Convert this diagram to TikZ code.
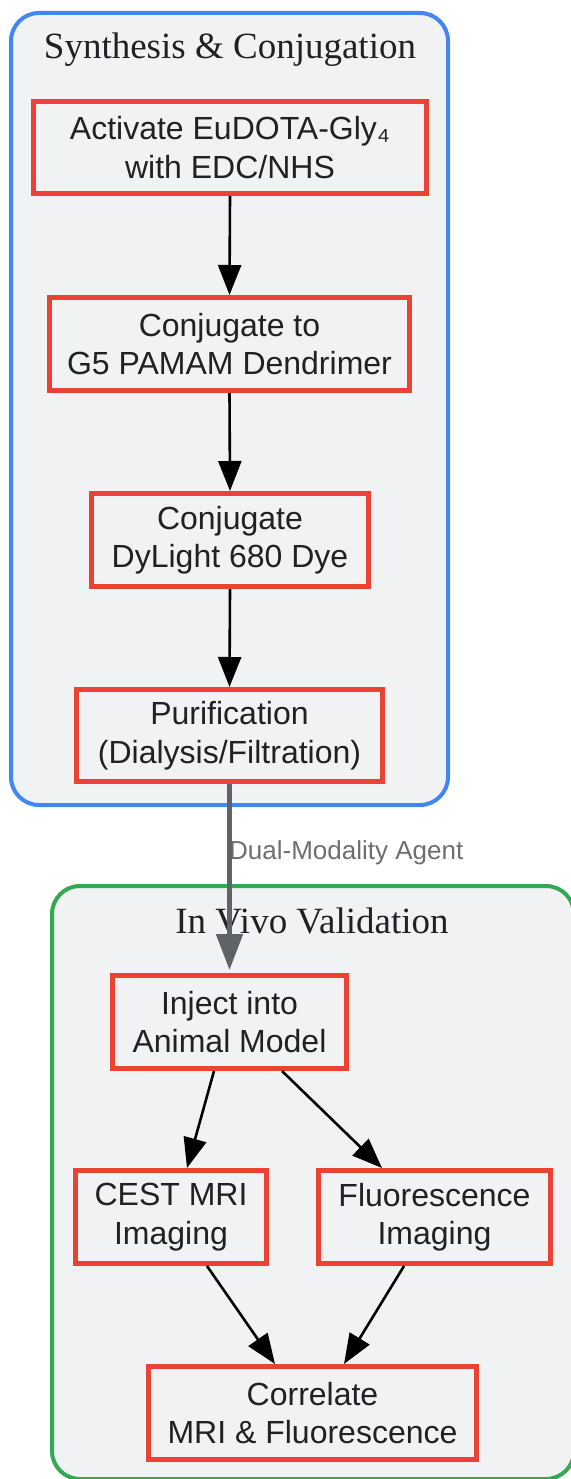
\documentclass[tikz,border=0pt]{standalone}
\usepackage{fontspec}
\setmainfont{Liberation Sans}
\newfontfamily\titlefont{Liberation Serif}
\usetikzlibrary{arrows.meta}
\definecolor{gblue}{HTML}{4285F4}
\definecolor{ggreen}{HTML}{34A853}
\definecolor{gred}{HTML}{EA4335}
\definecolor{gfill}{HTML}{F1F2F4}
\definecolor{tcol}{HTML}{202124}
\definecolor{ggray}{HTML}{5F6368}
\definecolor{lgray}{HTML}{6B6F74}
\begin{document}
\begin{tikzpicture}[x=1pt,y=-1pt,
  cluster/.style={line width=4pt, rounded corners=28pt, fill=gfill},
  proc/.style={draw=gred, fill=gfill, line width=5pt, align=center, inner sep=0pt,
    font=\fontsize{32}{38.5}\selectfont, text=tcol},
  ctitle/.style={anchor=base, text=tcol, font=\titlefont\fontsize{37}{37}\selectfont},
  arr/.style={draw=black, line width=2.6pt, -{Triangle[length=30pt,width=23pt]}},
  garr/.style={draw=ggray, line width=5pt, -{Triangle[length=36pt,width=26pt]}},
  elabel/.style={anchor=base west, inner sep=0pt, text=lgray, font=\fontsize{26}{26}\selectfont}]
\useasboundingbox (0,0) rectangle (570,1479);
\draw[cluster, draw=gblue] (11,13) rectangle (448,805);
\draw[cluster, draw=ggreen] (52,886) rectangle (574,1479);
\node[ctitle] (t1) at (230,59) {Synthesis \& Conjugation};
\node[ctitle] (t2) at (312,933) {In Vivo Validation};
\node[elabel] (lab) at (229,859) {Dual-Modality Agent};

\node[proc, minimum width=393pt, minimum height=92pt] (n1) at (230,147.5) {Activate EuDOTA-Gly₄\\with EDC/NHS};
\node[proc, minimum width=360pt, minimum height=93pt] (n2) at (229.5,344) {Conjugate to\\G5 PAMAM Dendrimer};
\node[proc, minimum width=277pt, minimum height=93pt] (n3) at (230,540) {Conjugate\\DyLight 680 Dye};
\node[proc, minimum width=306pt, minimum height=92pt] (n4) at (229.5,735.5) {Purification\\(Dialysis/Filtration)};
\node[proc, minimum width=234pt, minimum height=93pt] (n5) at (229.5,1022) {Inject into\\Animal Model};
\node[proc, minimum width=191pt, minimum height=93pt] (n6) at (171,1217) {CEST MRI\\Imaging};
\node[proc, minimum width=232pt, minimum height=93pt] (n7) at (434.5,1217) {Fluorescence\\Imaging};
\node[proc, minimum width=328pt, minimum height=93pt] (n8) at (312.5,1413) {Correlate\\MRI \& Fluorescence};

\draw[arr] (n1.south) -- (n2.north);
\draw[arr] (n2.south) -- (n3.north);
\draw[arr] (n3.south) -- (n4.north);
\draw[garr] (n4.south) -- ([yshift=3pt]n5.north);
\draw[arr] ([xshift=-15.5pt]n5.south) -- ([xshift=16pt]n6.north);
\draw[arr] ([xshift=52.5pt]n5.south) -- ([xshift=-52.5pt]n7.north);
\draw[arr] ([xshift=36pt]n6.south) -- ([xshift=-37.5pt]n8.north);
\draw[arr] ([xshift=-30.5pt]n7.south) -- ([xshift=31.5pt]n8.north);
\end{tikzpicture}
\end{document}
